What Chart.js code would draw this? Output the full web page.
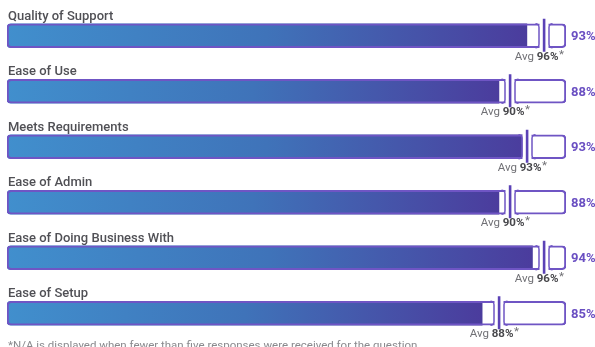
<!DOCTYPE html>
<html>
<head>
<meta charset="utf-8">
<script src="https://cdn.jsdelivr.net/npm/chart.js@4.4.1/dist/chart.umd.min.js"></script>
<style>
  html,body{margin:0;padding:0;background:#fff;}
  #wrap{width:595px;height:347px;position:relative;}
</style>
</head>
<body>
<div id="wrap"><canvas id="c" width="595" height="347"></canvas></div>
<script>
const categories = ["Quality of Support","Ease of Use","Meets Requirements","Ease of Admin","Ease of Doing Business With","Ease of Setup"];
const scores = [93, 88, 93, 88, 94, 85];
const averages = [96, 90, 93, 90, 96, 88];
const fullScale = [100, 100, 100, 100, 100, 100];
const footnote = "*N/A is displayed when fewer than five responses were received for the question.";

const PURPLE = "#6f55c4";
const MARK = "#5b42b6";
const BAR_H = 24;
const FONT = 'Roboto, "Noto Sans", sans-serif';

const decor = {
  id: 'decor',
  afterDatasetsDraw(chart) {
    const ctx = chart.ctx;
    const xs = chart.scales.x;
    const meta = chart.getDatasetMeta(0);
    ctx.save();
    meta.data.forEach((bar, i) => {
      const top = bar.y - BAR_H / 2;
      const bot = bar.y + BAR_H / 2;
      const ax = Math.round(xs.getPixelForValue(averages[i]));
      const g = 5, r = 3.5;
      // white gap
      ctx.fillStyle = '#fff';
      ctx.fillRect(ax - g + 0.5, top - 2, 2 * g - 1, BAR_H + 4);
      // caps
      ctx.strokeStyle = PURPLE;
      ctx.lineWidth = 1.5;
      ctx.beginPath();
      ctx.moveTo(ax - g - r, top);
      ctx.arcTo(ax - g, top, ax - g, top + r, r);
      ctx.lineTo(ax - g, bot - r);
      ctx.arcTo(ax - g, bot, ax - g - r, bot, r);
      ctx.stroke();
      ctx.beginPath();
      ctx.moveTo(ax + g + r, top);
      ctx.arcTo(ax + g, top, ax + g, top + r, r);
      ctx.lineTo(ax + g, bot - r);
      ctx.arcTo(ax + g, bot, ax + g + r, bot, r);
      ctx.stroke();
      // marker
      ctx.fillStyle = MARK;
      ctx.fillRect(ax - 1.2, top - 5, 2.6, BAR_H + 9);
      // category label
      ctx.font = '500 13px ' + FONT;
      ctx.fillStyle = '#505055';
      ctx.textAlign = 'left';
      ctx.textBaseline = 'alphabetic';
      ctx.fillText(categories[i], chart.chartArea.left + 1, top - 4);
      // value label
      ctx.font = '700 13px ' + FONT;
      ctx.fillStyle = '#6a4fc2';
      ctx.textBaseline = 'middle';
      ctx.fillText(scores[i] + '%', chart.chartArea.right + 5, bar.y + 1);
      // avg label
      const p1 = 'Avg ', p2 = averages[i] + '%', p3 = '*';
      ctx.font = '400 11.5px ' + FONT;
      const w1 = ctx.measureText(p1).width, w3 = ctx.measureText(p3).width;
      ctx.font = '700 11.5px ' + FONT;
      const w2 = ctx.measureText(p2).width;
      let x0 = ax - 5 - (w1 + w2 + w3) / 2;
      const ty = bot + 9;
      ctx.textBaseline = 'middle';
      ctx.font = '400 11.5px ' + FONT;
      ctx.fillStyle = '#707075';
      ctx.fillText(p1, x0, ty);
      ctx.font = '700 11.5px ' + FONT;
      ctx.fillStyle = '#48484c';
      ctx.fillText(p2, x0 + w1, ty);
      ctx.font = '400 11.5px ' + FONT;
      ctx.fillStyle = '#707075';
      ctx.fillText(p3, x0 + w1 + w2 + 0.5, ty - 2);
    });
    ctx.font = '400 11.5px ' + FONT;
    ctx.fillStyle = '#8a8a8e';
    ctx.textAlign = 'left';
    ctx.textBaseline = 'top';
    ctx.fillText(footnote, chart.chartArea.left + 1, 340);
    ctx.restore();
  }
};

new Chart(document.getElementById('c'), {
  type: 'bar',
  data: {
    labels: categories,
    datasets: [
      {
        label: 'track',
        data: fullScale,
        backgroundColor: 'rgba(0,0,0,0)',
        borderColor: PURPLE,
        borderWidth: 1.5,
        borderRadius: 4,
        borderSkipped: false,
        barThickness: BAR_H,
        grouped: false,
        order: 0
      },
      {
        label: 'score',
        data: scores,
        backgroundColor: (c) => {
          const ch = c.chart, area = ch.chartArea;
          if (!area) return '#4370b8';
          const end = ch.scales.x.getPixelForValue(scores[c.dataIndex] || 100);
          const gr = ch.ctx.createLinearGradient(area.left, 0, end, 0);
          gr.addColorStop(0, '#418fcd');
          gr.addColorStop(0.5, '#3f73b9');
          gr.addColorStop(1, '#4b3c9d');
          return gr;
        },
        borderWidth: 0,
        borderRadius: {topLeft: 4, bottomLeft: 4, topRight: 0, bottomRight: 0},
        borderSkipped: false,
        barThickness: BAR_H,
        grouped: false,
        order: 1
      }
    ]
  },
  options: {
    indexAxis: 'y',
    responsive: false,
    animation: false,
    layout: { padding: { left: 7, right: 29, top: 8, bottom: 6 } },
    scales: {
      x: { display: false, min: 0, max: 100 },
      y: { display: false }
    },
    plugins: { legend: { display: false }, tooltip: { enabled: false } }
  },
  plugins: [decor]
});
</script>
</body>
</html>
